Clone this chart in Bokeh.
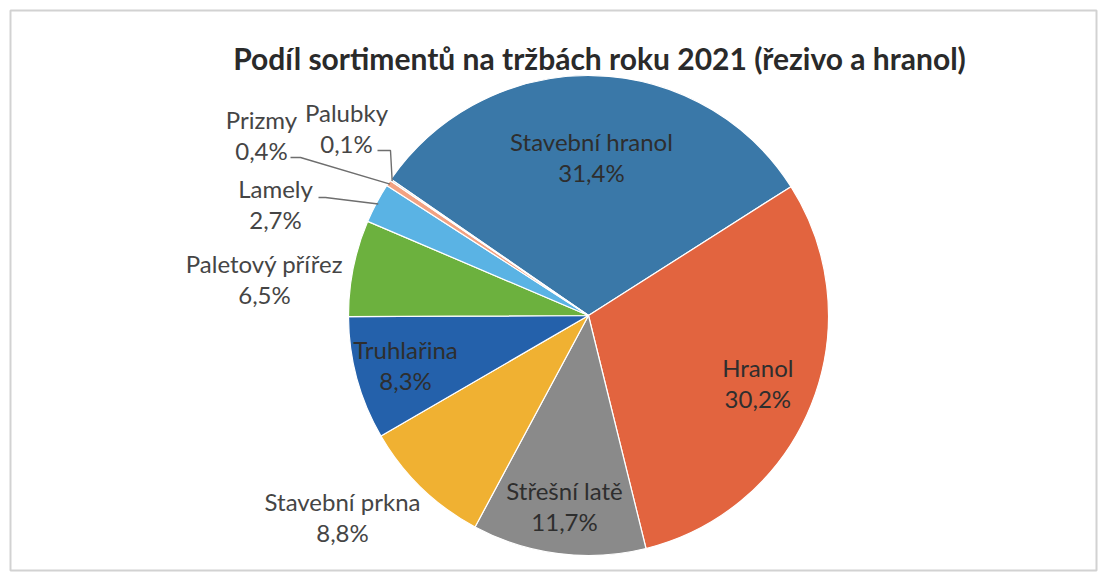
import math
from bokeh.plotting import figure
from bokeh.models import Range1d
from bokeh.core.properties import value
from bokeh.embed import file_html
from bokeh.resources import INLINE

# ---- data ----
title = "Podíl sortimentů na tržbách roku 2021 (řezivo a hranol)"
categories = ["Stavební hranol", "Hranol", "Střešní latě", "Stavební prkna",
              "Truhlařina", "Paletový přířez", "Lamely", "Prizmy", "Palubky"]
shares = [31.4, 30.2, 11.7, 8.8, 8.3, 6.5, 2.7, 0.4, 0.1]
colors = ["#3a78a8", "#e2643f", "#8a8a8a", "#f0b132", "#2461ab",
          "#6cb13e", "#5ab3e4", "#f2a282", "#b0b0b0"]

# ---- layout ----
W, H = 1098, 572
CX, CY, R = 588, H - 315, 240      # pie centre / radius (data px, y up)
START = 304.6                      # first slice angle, deg clockwise from 12 o'clock
FONT = "Lato"
# label placement: ("in", radius fraction) or ("out", dx, dy) offset from centre (screen px, dy down)
label_pos = [("in", 0.66), ("in", 0.76), ("in", 0.80), ("out", -246, 201),
             ("in", 0.79), ("out", -324, -37), ("out", -313, -112),
             ("out", -327, -181), ("out", -242, -188)]
# leader elbows (screen offsets from centre) for small outside labels
leaders = {6: [(-270, -118), (-263, -118)],
           7: [(-298, -158), (-288, -158)],
           8: [(-211, -165), (-198, -165)]}

p = figure(width=W, height=H, output_backend="svg", toolbar_location=None,
           x_range=Range1d(0, W), y_range=Range1d(0, H), min_border=0)
p.axis.visible = False
p.grid.visible = False
p.outline_line_color = None
p.background_fill_color = "white"
p.border_fill_color = "white"

# chart border
p.quad(left=[10], right=[1096], bottom=[H - 570], top=[H - 10],
       fill_color=None, line_color="#d2d2d2", line_width=2)

total = sum(shares)
theta = START
starts, ends, mids = [], [], []
for v in shares:
    t0 = theta
    t1 = theta + v / total * 360.0
    starts.append(math.radians(90 - t0))
    ends.append(math.radians(90 - t1))
    mids.append((t0 + t1) / 2)
    theta = t1

p.wedge(x=[CX] * len(shares), y=[CY] * len(shares), radius=R,
        start_angle=starts, end_angle=ends, direction="clock",
        fill_color=colors, line_color="white", line_width=1.2)

def pct(v):
    return f"{v:.1f}".replace(".", ",") + "%"

LS = 15.5  # half line spacing
for i, (name, v) in enumerate(zip(categories, shares)):
    lp = label_pos[i]
    if lp[0] == "in":
        m = math.radians(mids[i])
        lx = CX + lp[1] * R * math.sin(m)
        ly = CY + lp[1] * R * math.cos(m)
        col = "#2e2e2e"
    else:
        lx = CX + lp[1]
        ly = CY - lp[2]
        col = "#454545"
    p.text(x=[lx, lx], y=[ly + LS, ly - LS], text=[name, pct(v)],
           text_font=value(FONT), text_font_size="24px", text_color=col,
           text_align="center", text_baseline="middle")
    if i in leaders:
        m = math.radians(mids[i])
        xs = [CX + dx for dx, dy in leaders[i]] + [CX + (R - 2) * math.sin(m)]
        ys = [CY - dy for dx, dy in leaders[i]] + [CY + (R - 2) * math.cos(m)]
        p.line(xs, ys, line_color="#6e6e6e", line_width=1.4)

p.text(x=[599], y=[H - 57], text=[title], text_font=value(FONT),
       text_font_size="30px", text_font_style="bold", text_color="#2a2a2a",
       text_align="center", text_baseline="middle")

open("out.html", "w").write(file_html(p, INLINE))
